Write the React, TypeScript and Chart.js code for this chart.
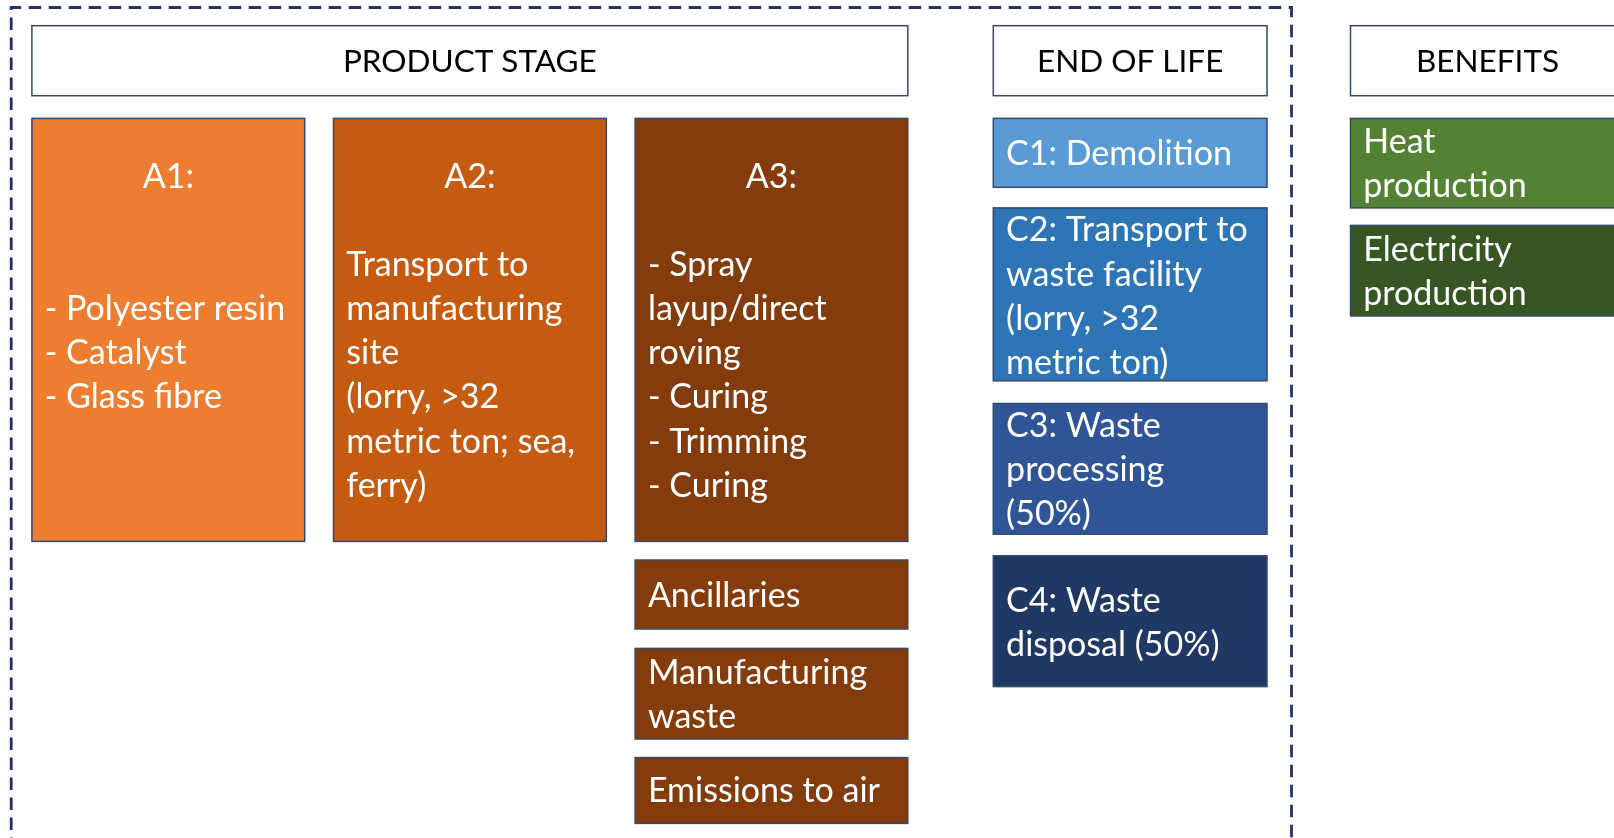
import React, { useEffect, useRef } from "react";
import { Chart, registerables } from "chart.js";
Chart.register(...registerables);

// Column headers
const headerLabels = ["PRODUCT STAGE", "END OF LIFE", "BENEFITS"];
const headerX0 = [31.9, 993.3, 1350.5];
const headerX1 = [907.8, 1267, 1624.5];
const headerY0 = [25.7, 25.7, 25.7];
const headerY1 = [95.7, 95.7, 95.7];

// Stage boxes
const boxNames = ["A1", "A2", "A3", "Ancillaries", "Manufacturing waste", "Emissions to air", "C1", "C2", "C3", "C4", "Heat", "Electricity"];
const boxX0 = [31.9, 333.5, 635.1, 635.1, 635.1, 635.1, 993.3, 993.3, 993.3, 993.3, 1350.5, 1350.5];
const boxX1 = [304.7, 606.3, 907.8, 907.8, 907.8, 907.8, 1267, 1267, 1267, 1267, 1624.5, 1624.5];
const boxY0 = [118.4, 118.4, 118.4, 560, 648.4, 757.6, 118.4, 207.9, 403.5, 555.8, 118.4, 225.4];
const boxY1 = [541.4, 541.4, 541.4, 629, 739, 823.4, 187.3, 380.8, 534.2, 686.6, 207.9, 316];
const boxText: string[][] = [
  ["A1:", "", "", "- Polyester resin", "- Catalyst", "- Glass fibre"],
  ["A2:", "", "Transport to", "manufacturing", "site", "(lorry, >32", "metric ton; sea,", "ferry)"],
  ["A3:", "", "- Spray", "layup/direct", "roving", "- Curing", "- Trimming", "- Curing"],
  ["Ancillaries"],
  ["Manufacturing", "waste"],
  ["Emissions to air"],
  ["C1: Demolition"],
  ["C2: Transport to", "waste facility", "(lorry, >32", "metric ton)"],
  ["C3: Waste", "processing", "(50%)"],
  ["C4: Waste", "disposal (50%)"],
  ["Heat", "production"],
  ["Electricity", "production"],
];
const firstLineY = [177, 177, 177, 596, 673, 791.5, 154.4, 230.5, 426, 601, 142, 250];

// Frame (dashed system boundary)
const frameX0 = 11.2;
const frameX1 = 1291.5;
const frameY0 = 7.5;
const frameY1 = 850;

// Styles
const boxFill = ["#ed7d31", "#c55a11", "#843c0c", "#843c0c", "#843c0c", "#843c0c", "#5b9bd5", "#2e75b6", "#2f5597", "#203864", "#548235", "#375623"];
const FONT = "34px Lato, 'Open Sans', sans-serif";
const HEADER_FONT = "31.5px Lato, 'Open Sans', sans-serif";
const LINE_PITCH = 44.1;
const TEXT_PAD = 12.8;
const OUTLINE = "#34496b";

const diagramPlugin = {
  id: "diagram",
  afterDatasetsDraw(chart: any) {
    const ctx = chart.ctx as CanvasRenderingContext2D;
    const xs = chart.scales.x;
    const ys = chart.scales.y;
    const px = (v: number) => xs.getPixelForValue(v);
    const py = (v: number) => ys.getPixelForValue(v);
    ctx.save();

    // dashed frame
    ctx.strokeStyle = "#1f3560";
    ctx.lineWidth = 2.8;
    ctx.setLineDash([12.5, 7.5]);
    ctx.beginPath();
    ctx.moveTo(px(frameX0), py(frameY1));
    ctx.lineTo(px(frameX0), py(frameY0));
    ctx.lineTo(px(frameX1), py(frameY0));
    ctx.lineTo(px(frameX1), py(frameY1));
    ctx.stroke();
    ctx.setLineDash([]);

    // headers
    ctx.font = HEADER_FONT;
    ctx.textBaseline = "middle";
    for (let i = 0; i < headerLabels.length; i++) {
      const x0 = px(headerX0[i]), x1 = px(headerX1[i]);
      const y0 = py(headerY0[i]), y1 = py(headerY1[i]);
      ctx.fillStyle = "#ffffff";
      ctx.fillRect(x0, y0, x1 - x0, y1 - y0);
      ctx.strokeStyle = OUTLINE;
      ctx.lineWidth = 1.5;
      ctx.strokeRect(x0, y0, x1 - x0, y1 - y0);
      ctx.fillStyle = "#000000";
      ctx.textAlign = "center";
      ctx.fillText(headerLabels[i], (x0 + x1) / 2, (y0 + y1) / 2 + 1.5);
    }

    // boxes
    ctx.font = FONT;
    for (let i = 0; i < boxNames.length; i++) {
      const x0 = px(boxX0[i]), x1 = px(boxX1[i]);
      const y0 = py(boxY0[i]), y1 = py(boxY1[i]);
      ctx.fillStyle = boxFill[i];
      ctx.fillRect(x0, y0, x1 - x0, y1 - y0);
      ctx.strokeStyle = OUTLINE;
      ctx.lineWidth = 1.5;
      ctx.strokeRect(x0, y0, x1 - x0, y1 - y0);
      ctx.fillStyle = "#ffffff";
      const lines = boxText[i];
      for (let k = 0; k < lines.length; k++) {
        const y = py(firstLineY[i] + k * LINE_PITCH);
        if (i < 3 && k === 0) {
          ctx.textAlign = "center";
          ctx.fillText(lines[k], (x0 + x1) / 2, y);
        } else {
          ctx.textAlign = "left";
          ctx.fillText(lines[k], x0 + TEXT_PAD, y);
        }
      }
    }
    ctx.restore();
  },
};

export default function App() {
  const ref = useRef<HTMLCanvasElement | null>(null);
  useEffect(() => {
    if (!ref.current) return;
    const chart = new Chart(ref.current, {
      type: "scatter",
      data: {
        datasets: [
          {
            label: "stages",
            data: boxNames.map((_, i) => ({ x: (boxX0[i] + boxX1[i]) / 2, y: (boxY0[i] + boxY1[i]) / 2 })),
            pointRadius: 0,
          },
        ],
      },
      options: {
        animation: false,
        responsive: false,
        layout: { padding: 0 },
        plugins: { legend: { display: false }, tooltip: { enabled: false } },
        scales: {
          x: { type: "linear", min: 0, max: 1614, display: false },
          y: { type: "linear", min: 0, max: 838, reverse: true, display: false },
        },
      },
      plugins: [diagramPlugin],
    });
    return () => chart.destroy();
  }, []);
  return (
    <div style={{ position: "fixed", left: 0, top: 0, width: 1614, height: 838, background: "#ffffff" }}>
      <canvas ref={ref} width={1614} height={838} style={{ display: "block" }} />
    </div>
  );
}
